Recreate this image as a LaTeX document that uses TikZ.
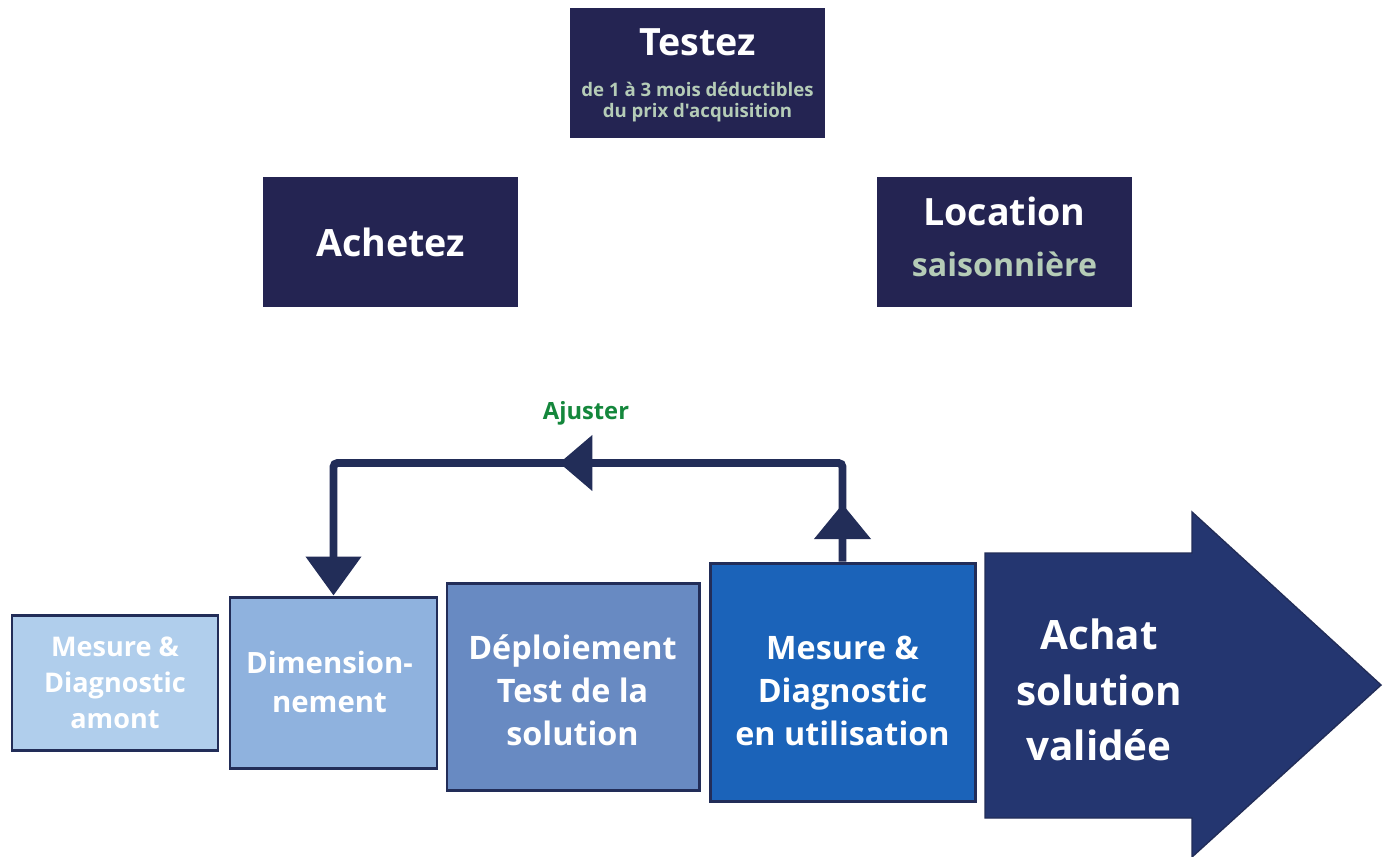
\documentclass[tikz,border=0pt]{standalone}
\usepackage{fontspec}
\setmainfont{Open Sans}[Ligatures=TeXOff]
\usetikzlibrary{arrows.meta,decorations.markings,calc}
\definecolor{navy}{RGB}{36,36,82}
\definecolor{subgreen}{RGB}{181,204,183}
\definecolor{edge}{RGB}{34,45,88}
\definecolor{fillA}{RGB}{176,206,236}
\definecolor{fillB}{RGB}{143,178,222}
\definecolor{fillC}{RGB}{104,138,194}
\definecolor{fillD}{RGB}{27,99,185}
\definecolor{arrowfill}{RGB}{36,54,112}
\definecolor{adjgreen}{RGB}{20,135,60}
\tikzset{
  topbox/.style={fill=navy, draw=none, minimum width=255*0.02cm, minimum height=130*0.02cm, inner sep=0pt},
  stepbox/.style={draw=edge, line width=1.7pt, inner sep=0pt, text=white, align=center},
  lbl/.style={text=white, inner sep=0pt, align=center},
  conn/.style={draw=edge, line width=4.5pt, rounded corners=0.08cm},
}
\newcommand{\fsz}[2]{\bfseries\fontsize{#1}{#2}\selectfont}
\begin{document}
\begin{tikzpicture}[x=0.02cm, y=-0.02cm]
\useasboundingbox[fill=white] (0,0) rectangle (1389,856);

% top boxes
\node[topbox] (testez) at (697.5,73) {};
\node[lbl, anchor=base, font=\fsz{21.4}{26}] (testezT) at (697.5,55) {Testez};
\node[lbl, anchor=base, text=subgreen, font=\fsz{10.6}{13}] (testezS1) at (697.5,96) {de 1 à 3 mois déductibles};
\node[lbl, anchor=base, text=subgreen, font=\fsz{10.6}{13}] (testezS2) at (697.5,117) {du prix d'acquisition};

\node[topbox] (achetez) at (390.5,242) {};
\node[lbl, anchor=base, font=\fsz{21.4}{26}] (achetezT) at (390.5,256) {Achetez};

\node[topbox] (location) at (1004.5,242) {};
\node[lbl, anchor=base, font=\fsz{21.4}{26}] (locationT) at (1004.5,225) {Location};
\node[lbl, anchor=base, text=subgreen, font=\fsz{18.3}{22}] (locationS) at (1004.5,276) {saisonnière};

% process boxes
\node[stepbox, fill=fillA, minimum width=206*0.02cm, minimum height=135*0.02cm,
      font=\fsz{15.4}{20.4}] (b1) at (115,682.5) {Mesure \&\\Diagnostic\\amont};
\node[stepbox, fill=fillB, minimum width=207*0.02cm, minimum height=171*0.02cm] (b2) at (333.5,682.5) {};
\node[lbl, font=\fsz{16.7}{22.7}] (b2t) at (329.5,682) {Dimension-\\nement};
\node[stepbox, fill=fillC, minimum width=252*0.02cm, minimum height=207*0.02cm] (b3) at (573,686.5) {};
\node[lbl, font=\fsz{18.4}{24.6}] (b3t) at (572.5,690) {Déploiement\\Test de la\\solution};
\node[stepbox, fill=fillD, minimum width=265*0.02cm, minimum height=238*0.02cm] (b4) at (842.5,682) {};
\node[lbl, font=\fsz{18.4}{24.6}] (b4t) at (842.5,691) {Mesure \&\\Diagnostic\\en utilisation};

% big arrow
\draw[fill=arrowfill, draw=edge, line width=0.8pt, line join=miter]
  (985,553) -- (1192,553) -- (1192,512) -- (1381,685) -- (1192,857) -- (1192,818) -- (985,818) -- cycle;
\node[lbl, font=\fsz{23}{31.6}] (achat) at (1099,690) {Achat\\solution\\validée};

% feedback connector
\coordinate (ytop) at (0,463);
\draw[conn,
  postaction={decorate, decoration={markings,
    mark=at position 1.15cm with {\arrow[edge]{Triangle[width=1.1cm,length=0.7cm]}},
    mark=at position 7.6cm with {\arrow[edge]{Triangle[width=1.08cm,length=0.66cm]}}}},
  -{Triangle[width=1.08cm,length=0.78cm]}]
  (b4.north) |- (ytop -| b2.north) -- (b2.north);
\node[anchor=base, inner sep=0pt, text=adjgreen, font=\fsz{13.5}{16}] (ajuster) at (586,419) {Ajuster};
\end{tikzpicture}
\end{document}
